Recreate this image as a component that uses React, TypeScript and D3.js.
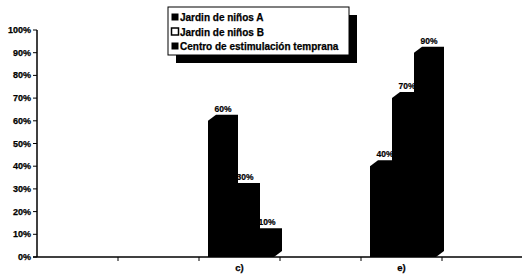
import React from 'react';
import * as d3 from 'd3';

// category slots along the x axis (only c and e carry data / labels)
const categoryIds = ['a', 'b', 'c', 'd', 'e', 'f'];
const categoryLabels = ['', '', 'c)', '', 'e)', ''];

const seriesNames = ['Jardin de niños A', 'Jardin de niños B', 'Centro de estimulación temprana'];

// values in percent, one array per series, aligned with categoryIds
const jardinA = [0, 0, 60, 0, 40, 0];
const jardinB = [0, 0, 30, 0, 70, 0];
const centro = [0, 0, 10, 0, 90, 0];

const yTicks = [0, 10, 20, 30, 40, 50, 60, 70, 80, 90, 100];

const W = 522;
const H = 274;
const FONT = '"Liberation Sans", Arial, sans-serif';

export default function App() {
  const margin = { left: 37, right: 0, top: 30, bottom: 17 };
  const x = d3.scaleBand().domain(categoryIds).range([margin.left, margin.left + 81 * 6]);
  const y = d3.scaleLinear().domain([0, 100]).range([H - margin.bottom, margin.top]);

  const barW = 22;
  const dx = 8;
  const dy = 6;
  const inset = 9;

  const series = [jardinA, jardinB, centro];
  const y0 = y(0);

  const bars: any[] = [];
  const labels: any[] = [];
  categoryIds.forEach((c, ci) => {
    series.forEach((s, si) => {
      const v = s[ci];
      if (!v) return;
      const bx = (x(c) as number) + inset + si * barW;
      const top = y(v);
      const pts = [
        [bx, y0],
        [bx, top],
        [bx + dx, top - dy],
        [bx + barW + dx, top - dy],
        [bx + barW + dx, y0 - dy],
        [bx + barW, y0],
      ];
      bars.push(
        <polygon key={`${c}-${si}`} points={pts.map((p) => p.join(',')).join(' ')} fill="#000" />
      );
      labels.push(
        <text
          key={`l-${c}-${si}`}
          x={bx + barW / 2 + dx / 2}
          y={top - dy - 3}
          textAnchor="middle"
          fontSize={8.5}
          fontWeight="bold"
          fontFamily={FONT}
          stroke="#000"
          strokeWidth={0.2}
        >
          {v}%
        </text>
      );
    });
  });

  const xEnd = margin.left + 81 * 6;

  return (
    <svg width={W} height={H} style={{ position: 'absolute', left: 0, top: 0, background: '#fff' }}>
      {/* y axis */}
      <line x1={margin.left} x2={margin.left} y1={y(100)} y2={y0} stroke="#000" strokeWidth={1.5} />
      {yTicks.map((t) => (
        <g key={t}>
          <line x1={margin.left - 4} x2={margin.left} y1={y(t)} y2={y(t)} stroke="#000" strokeWidth={1} />
          <text
            x={margin.left - 6}
            y={y(t) + 3}
            textAnchor="end"
            fontSize={9}
            fontWeight="bold"
            fontFamily={FONT}
            stroke="#000"
            strokeWidth={0.25}
          >
            {t}%
          </text>
        </g>
      ))}

      {bars}
      {labels}

      {/* x axis */}
      <line x1={margin.left - 4} x2={xEnd} y1={y0} y2={y0} stroke="#000" strokeWidth={1.5} />
      {categoryIds.slice(1).map((c) => (
        <line key={c} x1={x(c)} x2={x(c)} y1={y0} y2={y0 + 4} stroke="#000" strokeWidth={1} />
      ))}
      {categoryIds.map((c, i) => (
        <text
          key={`cl-${c}`}
          x={(x(c) as number) + x.bandwidth() / 2}
          y={H - 3}
          textAnchor="middle"
          fontSize={9.5}
          fontWeight="bold"
          fontFamily={FONT}
          stroke="#000"
          strokeWidth={0.25}
        >
          {categoryLabels[i]}
        </text>
      ))}

      {/* legend */}
      <g>
        <rect x={176} y={15} width={181} height={48} fill="#000" />
        <rect x={168} y={7} width={181} height={48} fill="#fff" stroke="#000" strokeWidth={1} />
        {seriesNames.map((n, i) => (
          <g key={n} transform={`translate(171, ${17 + i * 14.5})`}>
            <rect
              x={0.5}
              y={-3.5}
              width={7}
              height={7}
              fill={i === 1 ? '#fff' : '#000'}
              stroke="#000"
              strokeWidth={i === 1 ? 1.5 : 0}
            />
            <text
              x={9}
              y={4}
              fontSize={10}
              fontWeight="bold"
              fontFamily={FONT}
              stroke="#000"
              strokeWidth={0.25}
            >
              {n}
            </text>
          </g>
        ))}
      </g>
    </svg>
  );
}
